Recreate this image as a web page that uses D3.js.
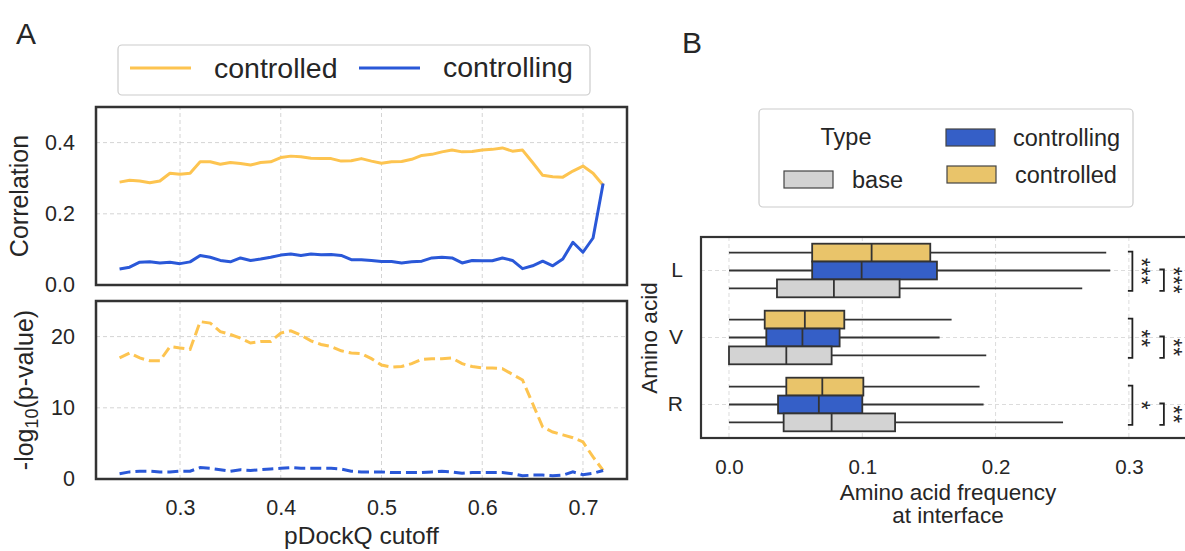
<!DOCTYPE html>
<html><head><meta charset="utf-8">
<script src="https://cdn.jsdelivr.net/npm/d3@7"></script>
<style>
body{margin:0;background:#fff}
svg{display:block}
text{font-family:"Liberation Sans",Arial,Helvetica,sans-serif;fill:#262626}
</style>
</head><body>
<svg id="c" width="1185" height="551"></svg>
<script>
// ---------------- DATA ----------------
const cutoffs = [0.24,0.25,0.26,0.27,0.28,0.29,0.30,0.31,0.32,0.33,
                 0.34,0.35,0.36,0.37,0.38,0.39,0.40,0.41,0.42,0.43,
                 0.44,0.45,0.46,0.47,0.48,0.49,0.50,0.51,0.52,0.53,
                 0.54,0.55,0.56,0.57,0.58,0.59,0.60,0.61,0.62,0.63,
                 0.64,0.65,0.66,0.67,0.68,0.69,0.70,0.71,0.72];
const corrControlled = [0.289,0.294,0.292,0.287,0.292,0.314,0.311,0.314,0.346,0.346,
                        0.339,0.344,0.341,0.337,0.344,0.346,0.358,0.362,0.360,0.356,
                        0.355,0.355,0.348,0.349,0.355,0.348,0.342,0.346,0.347,0.353,
                        0.364,0.367,0.374,0.379,0.374,0.375,0.379,0.381,0.385,0.376,
                        0.379,0.344,0.308,0.304,0.303,0.320,0.334,0.314,0.280];
const corrControlling = [0.045,0.050,0.064,0.065,0.062,0.064,0.060,0.065,0.083,0.078,
                         0.069,0.065,0.076,0.069,0.073,0.078,0.084,0.087,0.083,0.087,
                         0.085,0.086,0.083,0.071,0.071,0.069,0.066,0.066,0.062,0.065,
                         0.067,0.076,0.078,0.076,0.062,0.069,0.068,0.068,0.076,0.069,
                         0.046,0.054,0.067,0.054,0.073,0.120,0.092,0.132,0.285];
const pvalControlled = [17.0,17.7,17.0,16.6,16.6,18.6,18.4,18.2,22.1,21.9,
                        20.7,20.3,19.8,19.1,19.3,19.3,20.5,20.8,20.2,19.4,
                        18.9,18.6,18.0,17.7,17.6,16.9,16.0,15.7,15.8,16.2,
                        16.8,16.9,16.9,17.0,16.2,15.8,15.6,15.6,15.5,14.7,
                        13.9,10.6,7.3,6.6,6.2,5.8,5.2,3.1,1.2];
const pvalControlling = [0.75,1.0,1.1,1.1,1.0,1.0,1.1,1.1,1.6,1.5,
                         1.3,1.1,1.3,1.2,1.3,1.4,1.5,1.6,1.5,1.5,
                         1.5,1.5,1.4,1.1,1.0,1.0,1.0,0.9,0.9,0.9,
                         0.9,1.0,1.1,1.0,0.8,0.9,0.9,0.9,0.9,0.75,
                         0.45,0.55,0.55,0.45,0.55,1.0,0.6,0.8,1.2];
const cutoffTicks = [0.3,0.4,0.5,0.6,0.7];
const corrTicks = [0.0,0.2,0.4];
const pvalTicks = [0,10,20];

const aminoAcids = ["L","V","R"];
const types = ["controlled","controlling","base"];   // top to bottom inside each group
// [lower whisker, Q1, median, Q3, upper whisker] per amino acid (L, V, R)
const controlledStats  = [[0.0,0.0624,0.107,0.151,0.283],[0.0,0.0268,0.0569,0.0865,0.167],[0.0,0.043,0.070,0.1008,0.188]];
const controllingStats = [[0.0,0.0624,0.0995,0.156,0.286],[0.0,0.028,0.0551,0.083,0.158],[0.0,0.0368,0.0674,0.100,0.191]];
const baseStats        = [[0.0,0.036,0.0787,0.128,0.265],[0.0,0.0,0.043,0.077,0.193],[0.0,0.041,0.077,0.1246,0.2506]];
const freqTicks = [0.0,0.1,0.2,0.3];
const sigControlledVsBase  = ["***","**","*"];
const sigControllingVsBase = ["***","**","**"];

// ---------------- STYLE ----------------
const lineYellow = "#fdc450", lineBlue = "#2a58d8";
const boxColors = {controlled:"#e9c46a", controlling:"#355fc7", base:"#d3d3d3"};
const gridColor = "#d4d4d4", frameColor = "#333";

const svg = d3.select("#c");

// ================= PANEL A =================
const xA = d3.scaleLinear().domain([0.2166,0.7437]).range([96,627]);
const yTop = d3.scaleLinear().domain([0,0.5]).range([285,107]);
const yBot = d3.scaleLinear().domain([0,25]).range([479,301]);

function grid(g, xs, ys, x, y){
  g.selectAll(".gx").data(xs).join("line")
    .attr("x1",d=>x(d)).attr("x2",d=>x(d)).attr("y1",y.range()[0]).attr("y2",y.range()[1])
    .attr("stroke",gridColor).attr("stroke-width",1).attr("stroke-dasharray","4,3");
  g.selectAll(".gy").data(ys).join("line").attr("class","gy")
    .attr("y1",d=>y(d)).attr("y2",d=>y(d)).attr("x1",x.range()[0]).attr("x2",x.range()[1])
    .attr("stroke",gridColor).attr("stroke-width",1).attr("stroke-dasharray","4,3");
}
grid(svg.append("g"), cutoffTicks, [0.2,0.4], xA, yTop);
grid(svg.append("g"), cutoffTicks, [10,20], xA, yBot);

const lineTop = (vals)=> d3.line().x((d,i)=>xA(cutoffs[i])).y(d=>yTop(d))(vals);
const lineBot = (vals)=> d3.line().x((d,i)=>xA(cutoffs[i])).y(d=>yBot(d))(vals);

svg.append("path").attr("d",lineTop(corrControlled)).attr("fill","none").attr("stroke",lineYellow).attr("stroke-width",3).attr("stroke-linejoin","round");
svg.append("path").attr("d",lineTop(corrControlling)).attr("fill","none").attr("stroke",lineBlue).attr("stroke-width",3).attr("stroke-linejoin","round");
svg.append("path").attr("d",lineBot(pvalControlled)).attr("fill","none").attr("stroke",lineYellow).attr("stroke-width",3).attr("stroke-dasharray","11,5");
svg.append("path").attr("d",lineBot(pvalControlling)).attr("fill","none").attr("stroke",lineBlue).attr("stroke-width",3).attr("stroke-dasharray","11,5");

// frames
svg.append("rect").attr("x",96).attr("y",107).attr("width",531).attr("height",178)
  .attr("fill","none").attr("stroke",frameColor).attr("stroke-width",2.5);
svg.append("rect").attr("x",96).attr("y",301).attr("width",531).attr("height",178)
  .attr("fill","none").attr("stroke",frameColor).attr("stroke-width",2.5);

// axes
function styleAxis(g, fs){
  g.select(".domain").remove();
  g.selectAll("line").remove();
  g.selectAll("text").attr("font-size",fs).attr("fill","#262626")
    .attr("font-family",'"Liberation Sans",Arial,sans-serif');
}
svg.append("g").attr("transform","translate(96,0)")
  .call(d3.axisLeft(yTop).tickValues(corrTicks).tickFormat(d3.format(".1f")).tickSize(0).tickPadding(21))
  .call(g=>styleAxis(g,21.5));
svg.append("g").attr("transform","translate(96,0)")
  .call(d3.axisLeft(yBot).tickValues(pvalTicks).tickFormat(d3.format("d")).tickSize(0).tickPadding(21))
  .call(g=>styleAxis(g,21.5));
svg.append("g").attr("transform","translate(0,479)")
  .call(d3.axisBottom(xA).tickValues(cutoffTicks).tickFormat(d3.format(".1f")).tickSize(0).tickPadding(21))
  .call(g=>styleAxis(g,21.5));

// axis labels
svg.append("text").attr("transform","translate(28,196) rotate(-90)").attr("text-anchor","middle")
  .attr("font-size",25).text("Correlation");
const pl = svg.append("text").attr("transform","translate(33,390) rotate(-90)").attr("text-anchor","middle")
  .attr("font-size",25);
pl.append("tspan").text("-log");
pl.append("tspan").attr("font-size",18).attr("dy",5).text("10");
pl.append("tspan").attr("dy",-5).text("(p-value)");
svg.append("text").attr("x",361.5).attr("y",544).attr("text-anchor","middle").attr("font-size",24.5).text("pDockQ cutoff");

// legend A
svg.append("rect").attr("x",118).attr("y",45).attr("width",472).attr("height",50).attr("rx",4)
  .attr("fill","#fff").attr("stroke","#cccccc").attr("stroke-width",1.2);
svg.append("line").attr("x1",130).attr("x2",191).attr("y1",68).attr("y2",68).attr("stroke",lineYellow).attr("stroke-width",3);
svg.append("text").attr("x",214).attr("y",78).attr("font-size",28.5).text("controlled");
svg.append("line").attr("x1",359).attr("x2",420).attr("y1",68).attr("y2",68).attr("stroke",lineBlue).attr("stroke-width",3);
svg.append("text").attr("x",443).attr("y",77).attr("font-size",28.5).text("controlling");

// panel label
svg.append("text").attr("x",16).attr("y",44).attr("font-size",30).text("A");
svg.append("text").attr("x",682).attr("y",53).attr("font-size",30).text("B");

// ================= PANEL B =================
const xB = d3.scaleLinear().domain([-0.021,0.3496]).range([701,1195]);
const yB = d3.scaleBand().domain(aminoAcids).range([237,438]).padding(0);
const yHue = d3.scaleBand().domain(types).range([0,yB.bandwidth()]).paddingInner(0).paddingOuter(0.375);

// grid
const gB = svg.append("g");
gB.selectAll(".gx").data(freqTicks).join("line")
  .attr("x1",d=>xB(d)).attr("x2",d=>xB(d)).attr("y1",237).attr("y2",438)
  .attr("stroke","#dcdcdc").attr("stroke-width",1).attr("stroke-dasharray","4,3");
gB.selectAll(".gy").data(aminoAcids).join("line")
  .attr("y1",d=>yB(d)+yB.bandwidth()/2).attr("y2",d=>yB(d)+yB.bandwidth()/2).attr("x1",701).attr("x2",1195)
  .attr("stroke","#dcdcdc").attr("stroke-width",1).attr("stroke-dasharray","4,3");

const statsByType = {controlled:controlledStats, controlling:controllingStats, base:baseStats};
const boxRows = [];
aminoAcids.forEach((aa,i)=>types.forEach(t=>boxRows.push({aa,t,s:statsByType[t][i]})));

const gBox = svg.append("g");
boxRows.forEach(r=>{
  const y0 = yB(r.aa)+yHue(r.t), h = yHue.bandwidth(), cy = y0+h/2;
  const [lo,q1,med,q3,hi] = r.s;
  gBox.append("line").attr("x1",xB(lo)).attr("x2",xB(q1)).attr("y1",cy).attr("y2",cy).attr("stroke",frameColor).attr("stroke-width",1.8);
  gBox.append("line").attr("x1",xB(q3)).attr("x2",xB(hi)).attr("y1",cy).attr("y2",cy).attr("stroke",frameColor).attr("stroke-width",1.8);
  gBox.append("rect").attr("x",xB(q1)).attr("y",y0).attr("width",xB(q3)-xB(q1)).attr("height",h)
    .attr("fill",boxColors[r.t]).attr("stroke",frameColor).attr("stroke-width",1.8);
  gBox.append("line").attr("x1",xB(med)).attr("x2",xB(med)).attr("y1",y0).attr("y2",y0+h).attr("stroke",frameColor).attr("stroke-width",1.8);
});

// significance brackets
const bx0 = xB(0.3);
aminoAcids.forEach((aa,i)=>{
  const c = t=> yB(aa)+yHue(t)+yHue.bandwidth()/2;
  const pairs = [
    {top:c("controlled")-1, bot:c("base")+2.5, x:bx0+3.5, lab:sigControlledVsBase[i]},
    {top:c("controlling")-1, bot:c("base")+2.5, x:bx0+35, lab:sigControllingVsBase[i]}
  ];
  pairs.forEach(p=>{
    svg.append("path").attr("d",`M${p.x-4.5},${p.top}H${p.x}V${p.bot}H${p.x-4.5}`)
      .attr("fill","none").attr("stroke","#222").attr("stroke-width",1.8);
    svg.append("text").attr("transform",`translate(${p.x+1},${(p.top+p.bot)/2}) rotate(90)`)
      .attr("text-anchor","middle").attr("font-size",23).text(p.lab);
  });
});

// frame
svg.append("rect").attr("x",701).attr("y",237).attr("width",494).attr("height",201)
  .attr("fill","none").attr("stroke",frameColor).attr("stroke-width",2.2);

// axes
svg.append("g").attr("transform","translate(701,0)")
  .call(d3.axisLeft(yB).tickSize(0).tickPadding(18))
  .call(g=>styleAxis(g,21));
svg.append("g").attr("transform","translate(0,438)")
  .call(d3.axisBottom(xB).tickValues(freqTicks).tickFormat(d3.format(".1f")).tickSize(0).tickPadding(21))
  .call(g=>styleAxis(g,20.5));

svg.append("text").attr("transform","translate(657,338) rotate(-90)").attr("text-anchor","middle")
  .attr("font-size",22.5).text("Amino acid");
svg.append("text").attr("x",948).attr("y",500).attr("text-anchor","middle").attr("font-size",22.5).text("Amino acid frequency");
svg.append("text").attr("x",948).attr("y",523).attr("text-anchor","middle").attr("font-size",22.5).text("at interface");

// legend B
svg.append("rect").attr("x",759).attr("y",109).attr("width",374).attr("height",98).attr("rx",4)
  .attr("fill","#fff").attr("stroke","#cccccc").attr("stroke-width",1.2);
svg.append("text").attr("x",846).attr("y",145).attr("text-anchor","middle").attr("font-size",23.5).text("Type");
const legB = [
  {t:"base", rx:784, ry:171, tx:852, ty:188},
  {t:"controlling", rx:946, ry:129, tx:1013, ty:146},
  {t:"controlled", rx:947, ry:166, tx:1015, ty:183}
];
legB.forEach(l=>{
  svg.append("rect").attr("x",l.rx).attr("y",l.ry).attr("width",49).attr("height",17)
    .attr("fill",boxColors[l.t]).attr("stroke","#444").attr("stroke-width",1.2);
  svg.append("text").attr("x",l.tx).attr("y",l.ty).attr("font-size",23.5).text(l.t);
});
</script>
</body></html>
